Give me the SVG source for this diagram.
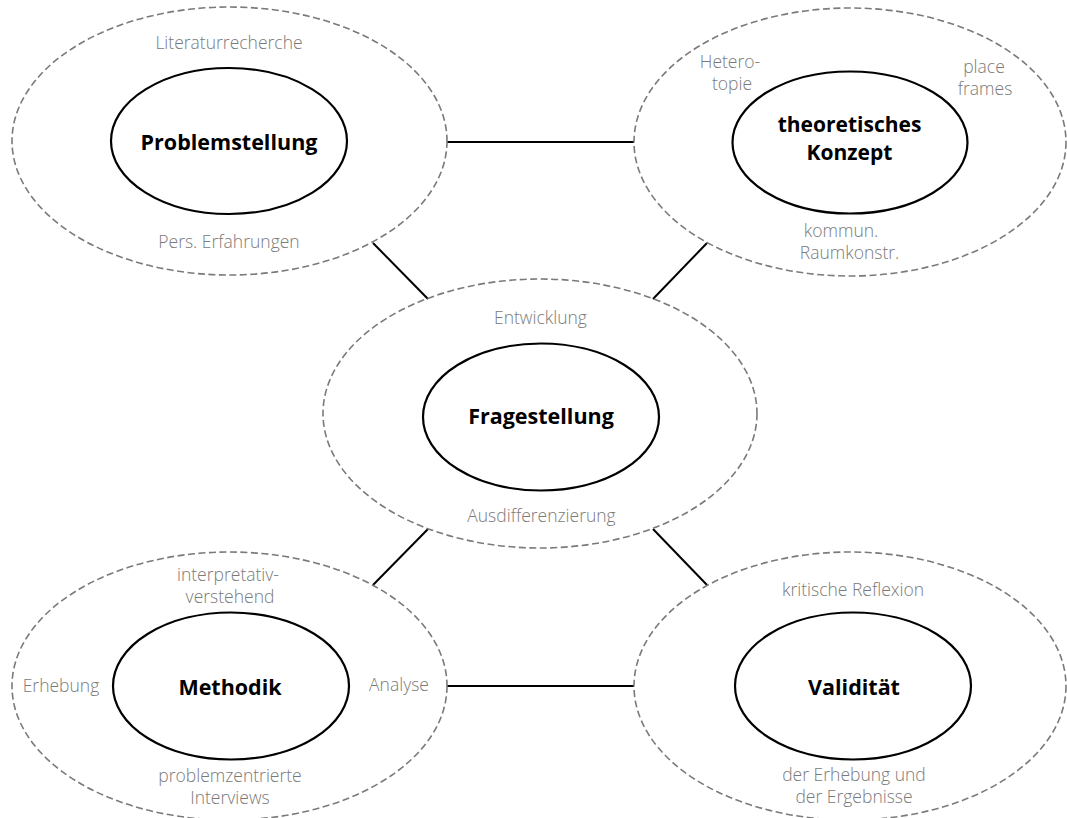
<svg xmlns="http://www.w3.org/2000/svg" width="1067" height="818" viewBox="0 0 1067 818">
  <style>
    .outer { fill: none; stroke: #7a7a7a; stroke-width: 1.6; stroke-dasharray: 7 3.5; }
    .inner { fill: #ffffff; stroke: #000000; stroke-width: 2.2; }
    .title { font-family: "Open Sans", "Liberation Sans", sans-serif; font-weight: 700; font-size: 21.5px; fill: #000000; text-anchor: middle; }
    .note { font-family: "Open Sans", "Liberation Sans", sans-serif; font-weight: 300; font-size: 17.5px; fill: #7a7a7a; text-anchor: middle; }
    .link { stroke: #000000; stroke-width: 2; fill: none; }
  </style>
  <rect width="1067" height="818" fill="#ffffff"/>

  <!-- connectors between the outer rings -->
  <g id="connectors">
    <line class="link" x1="447" y1="142" x2="634" y2="142"/>
    <line class="link" x1="373" y1="243" x2="428" y2="299"/>
    <line class="link" x1="707" y1="243" x2="653" y2="299"/>
    <line class="link" x1="428" y1="529" x2="373" y2="585"/>
    <line class="link" x1="653" y1="529" x2="707" y2="585"/>
    <line class="link" x1="447" y1="686" x2="634" y2="686"/>
  </g>

  <g id="problemstellung">
    <ellipse class="outer" cx="229.5" cy="141" rx="217.5" ry="134"/>
    <ellipse class="inner" cx="229" cy="141" rx="118" ry="73"/>
    <text class="note" x="229" y="49">Literaturrecherche</text>
    <text class="title" x="229" y="150">Problemstellung</text>
    <text class="note" x="229" y="248">Pers. Erfahrungen</text>
  </g>

  <g id="theoretisches-konzept">
    <ellipse class="outer" cx="850" cy="142" rx="216" ry="134"/>
    <ellipse class="inner" cx="850" cy="142.5" rx="117.5" ry="71"/>
    <text class="note" x="730" y="68">Hetero-</text>
    <text class="note" x="732" y="90">topie</text>
    <text class="note" x="984" y="73">place</text>
    <text class="note" x="985" y="95">frames</text>
    <text class="title" x="849.5" y="131.5" style="font-size:21px">theoretisches</text>
    <text class="title" x="849.5" y="160" style="font-size:21px">Konzept</text>
    <text class="note" x="841" y="237">kommun.</text>
    <text class="note" x="849.5" y="259">Raumkonstr.</text>
  </g>

  <g id="fragestellung">
    <ellipse class="outer" cx="540" cy="413.5" rx="217" ry="134.5"/>
    <ellipse class="inner" cx="541" cy="417" rx="118" ry="73.5"/>
    <text class="note" x="540.5" y="324">Entwicklung</text>
    <text class="title" x="541" y="424">Fragestellung</text>
    <text class="note" x="541.5" y="522">Ausdifferenzierung</text>
  </g>

  <g id="methodik">
    <ellipse class="outer" cx="229.5" cy="686" rx="217.5" ry="134"/>
    <ellipse class="inner" cx="231" cy="686" rx="118" ry="73.5"/>
    <text class="note" x="228" y="581">interpretativ-</text>
    <text class="note" x="230" y="603">verstehend</text>
    <text class="note" x="61" y="692">Erhebung</text>
    <text class="title" x="230" y="695">Methodik</text>
    <text class="note" x="399" y="691">Analyse</text>
    <text class="note" x="230" y="782">problemzentrierte</text>
    <text class="note" x="230" y="804">Interviews</text>
  </g>

  <g id="validitaet">
    <ellipse class="outer" cx="850" cy="686" rx="216" ry="134"/>
    <ellipse class="inner" cx="853" cy="686" rx="118" ry="73.5"/>
    <text class="note" x="853" y="596">kritische Reflexion</text>
    <text class="title" x="854" y="695">Validität</text>
    <text class="note" x="854" y="781">der Erhebung und</text>
    <text class="note" x="854" y="803">der Ergebnisse</text>
  </g>
</svg>
